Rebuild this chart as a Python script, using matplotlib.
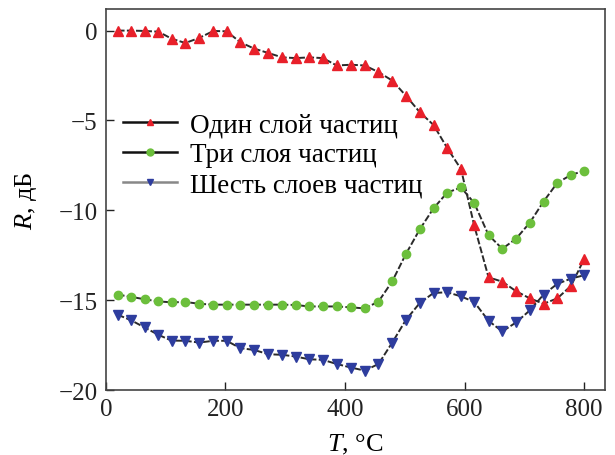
import matplotlib
matplotlib.use("Agg")
import matplotlib.pyplot as plt
from matplotlib.lines import Line2D

# ---- data ----
T = [20, 43, 65, 88, 110, 133, 156, 180, 202, 225, 248, 272, 295, 318, 340,
     363, 386, 410, 433, 456, 479, 502, 525, 548, 571, 594, 616, 640, 663,
     686, 709, 732, 755, 778, 800]

R_one = [0, 0, -0.02, -0.06, -0.45, -0.69, -0.41, -0.02, -0.04, -0.65,
         -1.0, -1.25, -1.49, -1.53, -1.49, -1.53, -1.94, -1.9, -1.94, -2.31,
         -2.78, -3.63, -4.54, -5.25, -6.54, -7.71, -10.84, -13.73, -13.97, -14.5,
         -14.9, -15.2, -14.9, -14.2, -12.7]

R_three = [-14.69, -14.82, -14.95, -15.07, -15.12, -15.1, -15.2, -15.25, -15.25, -15.25,
           -15.25, -15.25, -15.25, -15.27, -15.35, -15.35, -15.35, -15.4, -15.46, -15.08,
           -13.95, -12.42, -11.06, -9.89, -9.01, -8.73, -9.59, -11.38, -12.14, -11.58,
           -10.69, -9.51, -8.47, -8.03, -7.8]

R_six = [-15.81, -16.13, -16.52, -16.93, -17.25, -17.26, -17.36, -17.26, -17.26, -17.67,
         -17.77, -18.01, -18.04, -18.14, -18.29, -18.32, -18.55, -18.75, -18.92, -18.55,
         -17.36, -16.09, -15.16, -14.6, -14.56, -14.79, -15.1, -16.15, -16.74, -16.24,
         -15.57, -14.69, -14.09, -13.8, -13.61]

labels = ["Один слой частиц", "Три слоя частиц", "Шесть слоев частиц"]

# ---- style ----
plt.rcParams['font.family'] = ['Liberation Serif', 'DejaVu Serif']
plt.rcParams['mathtext.fontset'] = 'custom'
plt.rcParams['mathtext.it'] = 'Liberation Serif:italic'
plt.rcParams['mathtext.rm'] = 'Liberation Serif'

RED = '#e8202a'
GREEN = '#6cbf3c'
BLUE = '#2e3d9e'
LINE = '#2a2a2a'

fig = plt.figure(figsize=(6.15, 4.56), dpi=100)
ax = fig.add_axes([0.172, 0.1425, 0.812, 0.8355])

dash = (0, (3.5, 1.2))
ax.plot(T, R_one, color=LINE, lw=1.4, ls=dash, marker='^', ms=6.5,
        mfc=RED, mec=RED, zorder=3)
ax.plot(T, R_three, color=LINE, lw=1.4, ls=dash, marker='o', ms=6,
        mfc=GREEN, mec=GREEN, zorder=3)
ax.plot(T, R_six, color=LINE, lw=1.4, ls=dash, marker='v', ms=6.5,
        mfc=BLUE, mec=BLUE, zorder=3)

ax.set_xlim(0, 835)
ax.set_ylim(-20, 1.2)
ax.set_xticks([0, 200, 400, 600, 800])
ax.set_yticks([0, -5, -10, -15, -20])
ax.set_yticklabels(['0', '\u22125', '\u221210', '\u221215', '\u221220'])
ax.tick_params(direction='in', length=6, width=1, labelsize=18, pad=6,
               colors='#222222')
for s in ax.spines.values():
    s.set_color('#444444')
    s.set_linewidth(1.2)

ax.set_xlabel(r'$T$, °C', fontsize=19, labelpad=8)
ax.set_ylabel(r'$R$, дБ', fontsize=19, labelpad=14)

handles = [
    Line2D([], [], color='#111111', lw=1.8, marker='^', ms=5, mfc=RED, mec=RED),
    Line2D([], [], color='#111111', lw=1.8, marker='o', ms=5, mfc=GREEN, mec=GREEN),
    Line2D([], [], color='#888888', lw=1.8, marker='v', ms=5, mfc=BLUE, mec=BLUE),
]
ax.legend(handles, labels, loc='center left', bbox_to_anchor=(0.035, 0.617),
          frameon=False, fontsize=19.5, handlelength=2.0, handletextpad=0.45,
          labelspacing=0.2, borderpad=0, borderaxespad=0)

fig.savefig('out.png', dpi=100)
